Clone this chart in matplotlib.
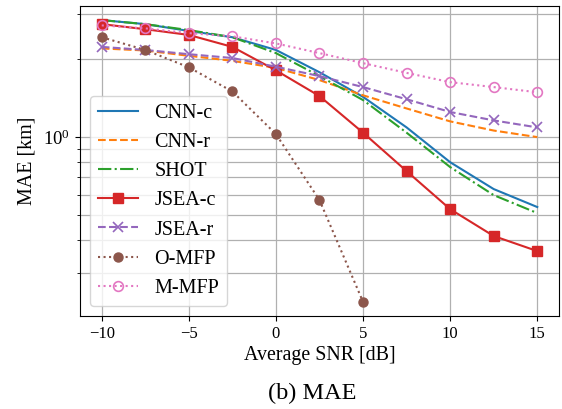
import matplotlib
matplotlib.use("Agg")
import matplotlib.pyplot as plt

plt.rcParams['font.family'] = ['Liberation Serif', 'DejaVu Serif']
plt.rcParams['mathtext.fontset'] = 'stix'

snr = [-10, -7.5, -5, -2.5, 0, 2.5, 5, 7.5, 10, 12.5, 15]
cnn_c = [2.83, 2.73, 2.57, 2.43, 2.17, 1.78, 1.43, 1.09, 0.80, 0.63, 0.537]
cnn_r = [2.20, 2.16, 2.06, 1.97, 1.85, 1.66, 1.45, 1.29, 1.15, 1.06, 1.00]
shot = [2.83, 2.73, 2.59, 2.43, 2.11, 1.72, 1.39, 1.04, 0.766, 0.597, 0.509]
jsea_c = [2.73, 2.61, 2.48, 2.23, 1.81, 1.44, 1.04, 0.739, 0.527, 0.415, 0.363]
jsea_r = [2.23, 2.17, 2.09, 2.02, 1.87, 1.72, 1.56, 1.40, 1.25, 1.16, 1.09]
o_mfp_snr = [-10, -7.5, -5, -2.5, 0, 2.5, 5]
o_mfp = [2.43, 2.17, 1.86, 1.50, 1.027, 0.571, 0.231]
m_mfp = [2.70, 2.63, 2.52, 2.45, 2.30, 2.11, 1.93, 1.77, 1.63, 1.56, 1.49]

fig = plt.figure(figsize=(5.62, 4.09), dpi=100)
ax = fig.add_axes([0.1423, 0.2274, 0.8524, 0.7579])

lw = 1.5
ax.plot(snr, cnn_c, '-', color='tab:blue', lw=lw, label='CNN-c')
ax.plot(snr, cnn_r, '--', color='tab:orange', lw=lw, label='CNN-r')
ax.plot(snr, shot, '-.', color='tab:green', lw=lw, label='SHOT')
ax.plot(snr, jsea_c, '-', color='tab:red', marker='s', ms=6.5, lw=lw, label='JSEA-c')
ax.plot(snr, jsea_r, '--', color='tab:purple', marker='x', ms=6.5, mew=1.2, lw=lw, label='JSEA-r')
ax.plot(o_mfp_snr, o_mfp, ':', color='tab:brown', marker='o', ms=6.5, lw=lw, label='O-MFP')
ax.plot(snr, m_mfp, ':', color='tab:pink', marker='o', ms=7, mfc='none', mew=1.2, lw=lw, label='M-MFP')

ax.set_yscale('log')
ax.set_xticks([-10, -5, 0, 5, 10, 15])
ax.grid(True, which='both', color='#b0b0b0', lw=0.9)
ax.tick_params(axis='x', labelsize=12)
ax.tick_params(axis='y', labelsize=13.5)
ax.set_xlabel('Average SNR [dB]', fontsize=14.4, labelpad=3)
ax.set_ylabel('MAE [km]', fontsize=14.4, labelpad=5)

ax.legend(loc='lower left', fontsize=14.5, handlelength=2.0, labelspacing=0.5)

fig.text(0.555, 0.039, '(b) MAE', ha='center', va='center', fontsize=17.5)

fig.savefig('out.png', dpi=100)
